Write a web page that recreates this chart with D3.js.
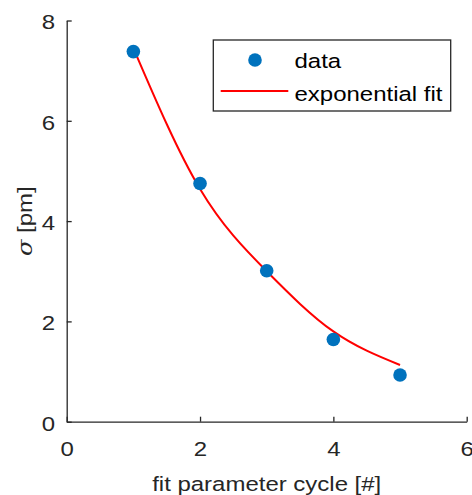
<!DOCTYPE html>
<html>
<head>
<meta charset="utf-8">
<script src="https://cdn.jsdelivr.net/npm/d3@7"></script>
<style>
  html, body { margin: 0; padding: 0; background: #fff; }
  svg { display: block; font-family: "Liberation Sans", Arial, Helvetica, sans-serif; }
</style>
</head>
<body>
<svg id="chart" width="472" height="495"></svg>
<script>
// Measured sigma per fit parameter cycle
const cycles = [1, 2, 3, 4, 5];
const sigma = [7.38, 4.75, 3.01, 1.64, 0.93];

// Exponential fit curve evaluated at the cycles
const fitCycles = [1, 2, 3, 4, 5];
const fitSigma = [7.45, 4.64, 3.00, 1.80, 1.13];

const xTicks = [0, 2, 4, 6];
const yTicks = [0, 2, 4, 6, 8];

const legendLabels = ["data", "exponential fit"];

const axisColor = "#262626";
const dotColor = "#0072BD";
const fitColor = "#FF0000";
const fontSize = 20.5;
const stretch = 1.17;   // wide sans rendering

const svg = d3.select("#chart");
const plotLeft = 66.7, plotRight = 466.7, plotTop = 20.5, plotBottom = 421.7;

const x = d3.scaleLinear().domain([0, 6]).range([plotLeft, plotRight]);
const y = d3.scaleLinear().domain([0, 8]).range([plotBottom, plotTop]);

// Axes with inward ticks
const xAxis = svg.append("g")
  .attr("transform", `translate(0,${plotBottom})`)
  .call(d3.axisBottom(x).tickValues(xTicks).tickFormat(d3.format("d"))
    .tickSize(-5).tickPadding(11).tickSizeOuter(0));
const yAxis = svg.append("g")
  .attr("transform", `translate(${plotLeft},0)`)
  .call(d3.axisLeft(y).tickValues(yTicks).tickFormat(d3.format("d"))
    .tickSize(-5).tickPadding(11).tickSizeOuter(0));

[xAxis, yAxis].forEach(g => {
  g.select(".domain").attr("stroke", axisColor).attr("stroke-width", 1.3);
  g.selectAll(".tick line").attr("stroke", axisColor).attr("stroke-width", 1.3);
  g.selectAll(".tick text")
    .attr("fill", axisColor)
    .attr("font-size", fontSize)
    .attr("font-family", "Liberation Sans, Arial, sans-serif");
});
xAxis.selectAll(".tick text")
  .attr("x", 0).attr("y", 34.7).attr("dy", null)
  .attr("transform", `scale(${stretch},1)`);
yAxis.selectAll(".tick text")
  .attr("x", -11.7 / stretch).attr("dy", "0.41em")
  .attr("transform", `scale(${stretch},1)`);

// Fit curve
const line = d3.line()
  .x((d, i) => x(fitCycles[i]))
  .y(d => y(d))
  .curve(d3.curveNatural);
svg.append("path")
  .datum(fitSigma)
  .attr("d", line)
  .attr("fill", "none")
  .attr("stroke", fitColor)
  .attr("stroke-width", 2);

// Data points
svg.append("g").selectAll("circle")
  .data(sigma)
  .join("circle")
  .attr("cx", (d, i) => x(cycles[i]))
  .attr("cy", d => y(d))
  .attr("r", 6.8)
  .attr("fill", dotColor);

// Axis titles
svg.append("text")
  .attr("transform", `translate(${(plotLeft + plotRight) / 2},491) scale(${stretch},1)`)
  .attr("text-anchor", "middle")
  .attr("font-size", fontSize)
  .attr("fill", axisColor)
  .text("fit parameter cycle [#]");

const yt = svg.append("text")
  .attr("transform", `translate(31.5,${(plotTop + plotBottom) / 2}) rotate(-90) scale(${stretch},1)`)
  .attr("text-anchor", "middle")
  .attr("font-size", fontSize)
  .attr("fill", axisColor);
yt.append("tspan").attr("font-style", "italic").attr("font-family", "DejaVu Serif, serif").text("σ");
yt.append("tspan").text(" [pm]");

// Legend
const lg = svg.append("g");
lg.append("rect")
  .attr("x", 213.3).attr("y", 40)
  .attr("width", 237.4).attr("height", 71)
  .attr("fill", "#fff")
  .attr("stroke", axisColor)
  .attr("stroke-width", 1.3);
lg.append("circle").attr("cx", 255).attr("cy", 60).attr("r", 6.8).attr("fill", dotColor);
lg.append("line")
  .attr("x1", 220.7).attr("x2", 288.3)
  .attr("y1", 91).attr("y2", 91)
  .attr("stroke", fitColor).attr("stroke-width", 2);
lg.selectAll("text.lbl")
  .data(legendLabels)
  .join("text")
  .attr("class", "lbl")
  .attr("transform", (d, i) => `translate(294.5,${68 + i * 33}) scale(${stretch},1)`)
  .attr("font-size", fontSize)
  .attr("fill", "#000")
  .text(d => d);
</script>
</body>
</html>
